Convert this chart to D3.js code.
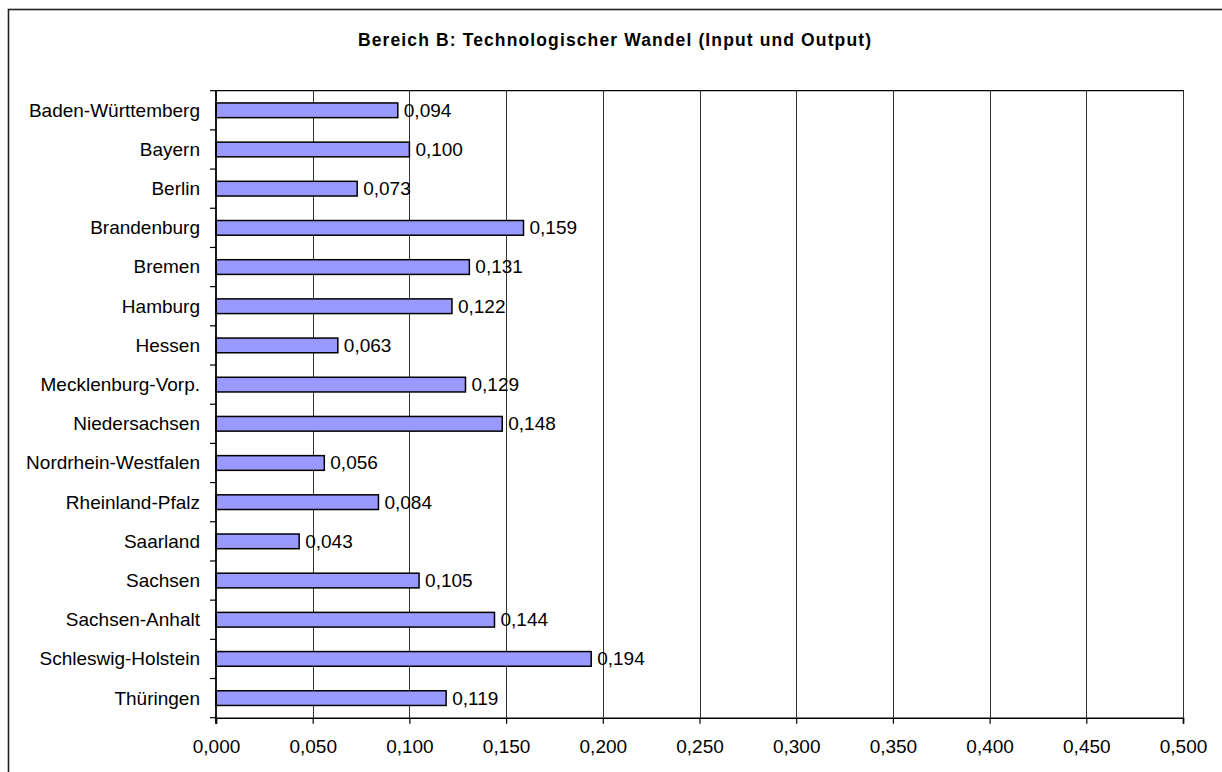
<!DOCTYPE html>
<html>
<head>
<meta charset="utf-8">
<script src="https://cdn.jsdelivr.net/npm/d3@7"></script>
<style>
  html, body { margin: 0; padding: 0; background: #fff; }
  svg { display: block; }
  text { font-family: Arial, "Liberation Sans", sans-serif; fill: #000; }
</style>
</head>
<body>
<svg id="chart" width="1222" height="772"></svg>
<script>
// Bundesländer and their index values for area B
const categories = [
  "Baden-Württemberg", "Bayern", "Berlin", "Brandenburg", "Bremen", "Hamburg",
  "Hessen", "Mecklenburg-Vorp.", "Niedersachsen", "Nordrhein-Westfalen",
  "Rheinland-Pfalz", "Saarland", "Sachsen", "Sachsen-Anhalt",
  "Schleswig-Holstein", "Thüringen"
];
const values = [
  0.094, 0.100, 0.073, 0.159, 0.131, 0.122, 0.063, 0.129,
  0.148, 0.056, 0.084, 0.043, 0.105, 0.144, 0.194, 0.119
];
const xTicks = [0, 0.05, 0.1, 0.15, 0.2, 0.25, 0.3, 0.35, 0.4, 0.45, 0.5];
const title = "Bereich B: Technologischer Wandel (Input und Output)";

const de = d3.formatLocale({ decimal: ",", thousands: ".", grouping: [3], currency: ["", " €"] });
const fmt = de.format(".3f");

const labelSize = 19;
const svg = d3.select("#chart");

// outer chart frame
svg.append("rect")
  .attr("x", 8.5).attr("y", 9.5)
  .attr("width", 1240).attr("height", 800)
  .attr("fill", "#fff").attr("stroke", "#222").attr("stroke-width", 1.6);

const plot = { left: 216, right: 1183, top: 90.7, bottom: 717.7 };

const x = d3.scaleLinear().domain([0, 0.5]).range([plot.left, plot.right]);
const y = d3.scaleBand().domain(categories).range([plot.top, plot.bottom]).padding(0);
const barH = y.bandwidth() * 0.375;

// title
svg.append("text")
  .attr("x", 614.5).attr("y", 46)
  .attr("text-anchor", "middle")
  .attr("font-size", 17.5).attr("font-weight", "bold")
  .attr("textLength", 513).attr("lengthAdjust", "spacing")
  .text(title);

// vertical gridlines
svg.append("g").selectAll("line")
  .data(xTicks.slice(1))
  .join("line")
  .attr("x1", d => Math.round(x(d)) + 0.5).attr("x2", d => Math.round(x(d)) + 0.5)
  .attr("y1", plot.top).attr("y2", plot.bottom)
  .attr("stroke", "#333").attr("stroke-width", 1);

// plot area top border
svg.append("line")
  .attr("x1", plot.left).attr("x2", plot.right + 1)
  .attr("y1", plot.top).attr("y2", plot.top)
  .attr("stroke", "#000").attr("stroke-width", 1.3);

// bars
svg.append("g").selectAll("rect")
  .data(categories)
  .join("rect")
  .attr("x", plot.left)
  .attr("y", (d) => y(d) + (y.bandwidth() - barH) / 2)
  .attr("width", (d, i) => x(values[i]) - x(0))
  .attr("height", barH)
  .attr("fill", "#9999FF")
  .attr("stroke", "#000").attr("stroke-width", 1.5);

// value labels
svg.append("g").selectAll("text")
  .data(categories)
  .join("text")
  .attr("x", (d, i) => x(values[i]) + 6)
  .attr("y", d => y(d) + y.bandwidth() / 2 + 6.4)
  .attr("font-size", labelSize)
  .text((d, i) => fmt(values[i]));

// value axis (bottom)
const xAxis = d3.axisBottom(x)
  .tickValues(xTicks)
  .tickSize(6)
  .tickPadding(16)
  .tickFormat(fmt);
const gx = svg.append("g")
  .attr("transform", `translate(0,${plot.bottom})`)
  .call(xAxis);
gx.select(".domain").attr("stroke", "#000").attr("stroke-width", 1.6);
gx.selectAll(".tick line").attr("stroke", "#000").attr("stroke-width", 1.2);
gx.selectAll(".tick text")
  .attr("font-family", "Arial, 'Liberation Sans', sans-serif")
  .attr("font-size", labelSize).attr("fill", "#000");

// category axis (left): ticks at band boundaries, labels centered in bands
const gy = svg.append("g");
gy.append("line")
  .attr("x1", plot.left).attr("x2", plot.left)
  .attr("y1", plot.top).attr("y2", plot.bottom + 6)
  .attr("stroke", "#000").attr("stroke-width", 1.8);
const bounds = categories.map(c => y(c)).concat([plot.bottom]);
gy.selectAll("line.tk")
  .data(bounds)
  .join("line")
  .attr("class", "tk")
  .attr("x1", plot.left - 6).attr("x2", plot.left)
  .attr("y1", d => d).attr("y2", d => d)
  .attr("stroke", "#000").attr("stroke-width", 1.2);
gy.selectAll("text")
  .data(categories)
  .join("text")
  .attr("x", 200)
  .attr("y", d => y(d) + y.bandwidth() / 2 + 6.4)
  .attr("text-anchor", "end")
  .attr("font-size", labelSize)
  .text(d => d);
</script>
</body>
</html>
